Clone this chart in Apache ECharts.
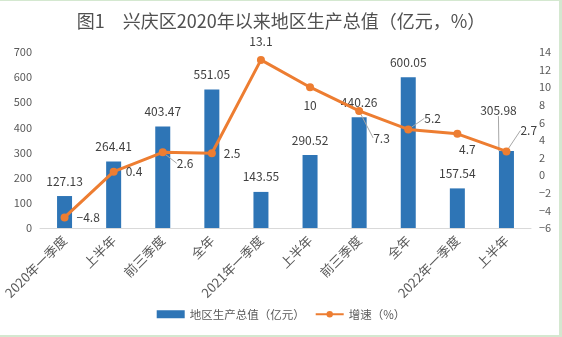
<!DOCTYPE html>
<html>
<head>
<meta charset="utf-8">
<script src="https://cdn.jsdelivr.net/npm/echarts@6/dist/echarts.min.js"></script>
<style>
  html, body { margin: 0; padding: 0; background: #fff; }
  #frame { position: absolute; left: 0; top: 0; width: 562px; height: 337px; box-sizing: border-box;
           border-top: 1px solid #d4e8d0; border-right: 3px solid #d4e8d0; border-bottom: 2px solid #d4e8d0; }
  #chart { width: 562px; height: 337px; }
</style>
</head>
<body>
<div id="chart"></div>
<div id="frame"></div>
<script>
// Quarterly periods
const categories = ['2020年一季度', '上半年', '前三季度', '全年', '2021年一季度', '上半年', '前三季度', '全年', '2022年一季度', '上半年'];
// GDP, 100 million yuan
const gdpValues = [127.13, 264.41, 403.47, 551.05, 143.55, 290.52, 440.26, 600.05, 157.54, 305.98];
// Growth rate, %
const growthValues = [-4.8, 0.4, 2.6, 2.5, 13.1, 10, 7.3, 5.2, 4.7, 2.7];

const textColor = '#595959';
const fontFamily = '"Noto Sans CJK SC", "Noto Sans", sans-serif';
const minus = v => String(v).replace('-', '\u2212');

// label placement for the growth line points
const growthLabelPos = ['right', 'right', 'right', 'right', 'top', 'bottom', 'right', 'right', 'bottom', 'right'];
const growthLabelShift = {
  2: [2, 11],
  6: [2, 27],
  7: [4, -11],
  8: [10, -2],
  9: [2, -21]
};
const growthLeader = [2, 6, 7, 9];

const chart = echarts.init(document.getElementById('chart'));
chart.setOption({
  animation: false,
  textStyle: { fontFamily: fontFamily },
  title: {
    text: '图1　兴庆区2020年以来地区生产总值（亿元，%）',
    left: 'center',
    top: 7,
    textStyle: { fontSize: 18, fontWeight: 'normal', color: '#505050', fontFamily: fontFamily }
  },
  legend: {
    bottom: 12,
    left: 'center',
    itemGap: 10,
    itemWidth: 28,
    itemHeight: 8,
    textStyle: { fontSize: 11.5, color: textColor, fontFamily: fontFamily },
    data: [
      { name: '地区生产总值（亿元）', icon: 'rect' },
      { name: '增速（%）' }
    ]
  },
  grid: { left: 40, right: 31, top: 52, bottom: 109 },
  xAxis: {
    type: 'category',
    data: categories,
    axisLine: { lineStyle: { color: '#d9d9d9', width: 1 } },
    axisTick: { show: false },
    axisLabel: { rotate: 45, color: textColor, fontSize: 13, margin: 10, interval: 0 }
  },
  yAxis: [
    {
      type: 'value', min: 0, max: 700, interval: 100,
      splitLine: { show: false },
      axisLine: { show: false }, axisTick: { show: false },
      axisLabel: { color: textColor, fontSize: 11, margin: 8 }
    },
    {
      type: 'value', min: -6, max: 14, interval: 2,
      splitLine: { show: false },
      axisLine: { show: false }, axisTick: { show: false },
      axisLabel: { color: textColor, fontSize: 11, margin: 8, formatter: v => minus(v) }
    }
  ],
  series: [
    {
      name: '地区生产总值（亿元）',
      type: 'bar',
      barWidth: 15,
      itemStyle: { color: '#2e75b6' },
      label: { show: true, position: 'top', distance: 9, color: '#404040', fontSize: 12 },
      labelLine: { show: false, lineStyle: { color: '#a6a6a6', width: 1 } },
      labelLayout: p => p.dataIndex === 9 ? { dx: -8, dy: -26 } : {},
      data: gdpValues.map((v, i) => i === 9 ? { value: v, labelLine: { show: true } } : v)
    },
    {
      name: '增速（%）',
      type: 'line',
      yAxisIndex: 1,
      z: 5,
      symbol: 'circle',
      symbolSize: 8,
      lineStyle: { color: '#ed7d31', width: 3 },
      itemStyle: { color: '#ed7d31' },
      label: { show: true, color: '#404040', fontSize: 12, distance: 8, formatter: p => minus(p.value) },
      labelLine: { show: false, lineStyle: { color: '#a6a6a6', width: 1 } },
      labelLayout: p => {
        const s = growthLabelShift[p.dataIndex];
        return s ? { dx: s[0], dy: s[1] } : {};
      },
      data: growthValues.map((v, i) => ({
        value: v,
        label: { position: growthLabelPos[i] },
        labelLine: { show: growthLeader.indexOf(i) >= 0 }
      }))
    }
  ]
});
</script>
</body>
</html>
